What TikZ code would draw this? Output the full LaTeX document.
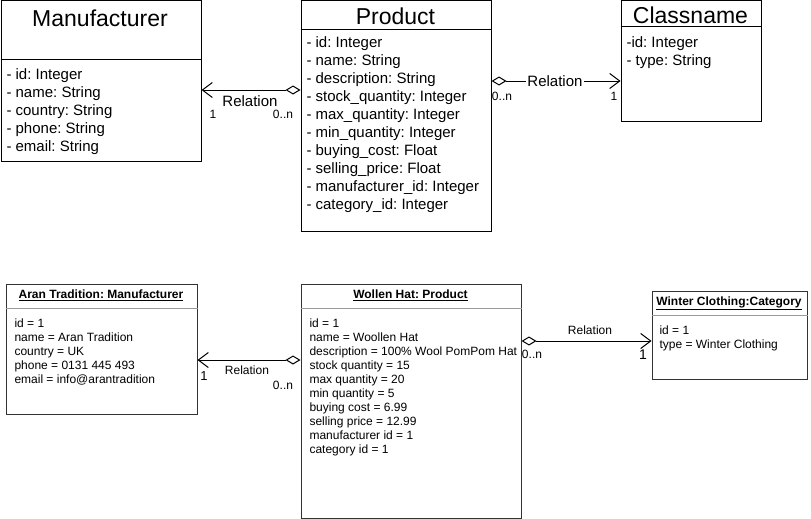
\documentclass[tikz,border=0pt]{standalone}
\usepackage{fontspec}
\setmainfont{Liberation Sans}
\usetikzlibrary{arrows.meta}
\frenchspacing
\begin{document}
\frenchspacing
\begin{tikzpicture}[x=1pt,y=-1pt,line width=1pt,
  box/.style={draw=black,line width=1pt,inner sep=0pt,anchor=north west},
  obox/.style={draw=black!80,line width=1pt,inner sep=0pt,anchor=north west},
  bigtitle/.style={font=\fontsize{23}{27}\selectfont,inner sep=0pt},
  objtitle/.style={font=\fontsize{12}{14}\selectfont\bfseries,inner sep=0pt},
  attrA/.style={font=\fontsize{15}{18}\selectfont,inner sep=0pt,anchor=base west},
  attrB/.style={font=\fontsize{12}{14}\selectfont,inner sep=0pt,anchor=base west},
  lblA/.style={font=\fontsize{15}{18}\selectfont,inner sep=0pt},
  lblB/.style={font=\fontsize{12}{14}\selectfont,inner sep=0pt},
  assoc/.style={line width=1pt,{Diamond[open,length=15pt,width=9pt,line width=1pt]}-{Straight Barb[length=10pt,width=15pt,line width=1pt]}}
]
\useasboundingbox (0,0) rectangle (811,519);

% ---------- class boxes ----------
\node[box,minimum width=200pt,minimum height=160pt] (mfr) at (0.5,0.5) {};
\draw (mfr.west |- 0,59.5) -- (mfr.east |- 0,59.5);
\node[bigtitle] (mfrt) at (100,18) {Manufacturer};
\foreach \t [count=\i from 0] in {- id: Integer,- name: String,- country: String,- phone: String,- email: String}
  \node[attrA] (ma\i) at (6,79.4+18*\i) {\t};

\node[box,minimum width=190pt,minimum height=230pt] (prod) at (300.5,0.5) {};
\draw (prod.west |- 0,29.5) -- (prod.east |- 0,29.5);
\node[bigtitle] (prodt) at (395.5,16) {Product};
\foreach \t [count=\i from 0] in {- id: Integer,- name: String,- description: String,- stock\_quantity: Integer,- max\_quantity: Integer,- min\_quantity: Integer,- buying\_cost: Float,- selling\_price: Float,- manufacturer\_id: Integer,- category\_id: Integer}
  \node[attrA] (pa\i) at (306,47.4+18*\i) {\t};

\node[box,minimum width=140pt,minimum height=120pt] (cls) at (620.5,0.5) {};
\draw (cls.west |- 0,26.5) -- (cls.east |- 0,26.5);
\node[bigtitle] (clst) at (690.5,15) {Classname};
\foreach \t [count=\i from 0] in {-id: Integer,- type: String}
  \node[attrA] (ca\i) at (626,47.4+18*\i) {\t};

% ---------- top connectors ----------
\draw[assoc] (prod.west |- 0,90) -- (mfr.east |- 0,90);
\node[lblA] (r1) at (250,101) {Relation};
\node[lblB] (r1a) at (213,114) {1};
\node[lblB] (r1b) at (283,114) {0..n};

\draw[assoc] (prod.east |- 0,81) -- (cls.west |- 0,81);
\node[lblA,fill=white,inner xsep=1pt] (r2) at (555,81) {Relation};
\node[lblB] (r2b) at (502,96) {0..n};
\node[lblB] (r2a) at (614,96) {1};

% ---------- object boxes ----------
\node[obox,minimum width=191pt,minimum height=130pt] (aran) at (5.5,283.5) {};
\draw[black!40] (aran.west |- 0,308.5) -- (aran.east |- 0,308.5);
\node[objtitle] (arant) at (101,295) {\underline{Aran Tradition: Manufacturer}};
\foreach \t [count=\i from 0] in {id = 1,name = Aran Tradition,country = UK,phone = 0131 445 493,email = info@arantradition}
  \node[attrB] (aa\i) at (14,327.3+14*\i) {\t};

\node[obox,minimum width=220pt,minimum height=234pt] (hat) at (300.5,283.5) {};
\draw[black!40] (hat.west |- 0,308.5) -- (hat.east |- 0,308.5);
\node[objtitle] (hatt) at (410.5,295) {\underline{Wollen Hat: Product}};
\foreach \t [count=\i from 0] in {id = 1,name = Woollen Hat,description = 100\% Wool PomPom Hat,stock quantity = 15,max quantity = 20,min quantity = 5,buying cost = 6.99,selling price = 12.99,manufacturer id = 1,category id = 1}
  \node[attrB] (ha\i) at (309,327.3+14*\i) {\t};

\node[obox,minimum width=155pt,minimum height=88pt] (win) at (651.5,290.5) {};
\draw[black!40] (win.west |- 0,315.5) -- (win.east |- 0,315.5);
\node[objtitle] (wint) at (729,303) {\underline{Winter Clothing:Category}};
\foreach \t [count=\i from 0] in {id = 1,type = Winter Clothing}
  \node[attrB] (wa\i) at (659,334.3+14*\i) {\t};

% ---------- bottom connectors ----------
\draw[assoc] (hat.west |- 0,360) -- (aran.east |- 0,360);
\node[lblB] (r3) at (247,370) {Relation};
\node[lblB,font=\fontsize{13}{14}\selectfont] (r3a) at (204,376) {1};
\node[lblB] (r3b) at (283,385) {0..n};

\draw[assoc] (hat.east |- 0,341) -- (win.west |- 0,341);
\node[lblB] (r4) at (590,330) {Relation};
\node[lblB] (r4b) at (532,354) {0..n};
\node[lblB,font=\fontsize{14}{14}\selectfont] (r4a) at (643,355) {1};
\end{tikzpicture}
\end{document}
